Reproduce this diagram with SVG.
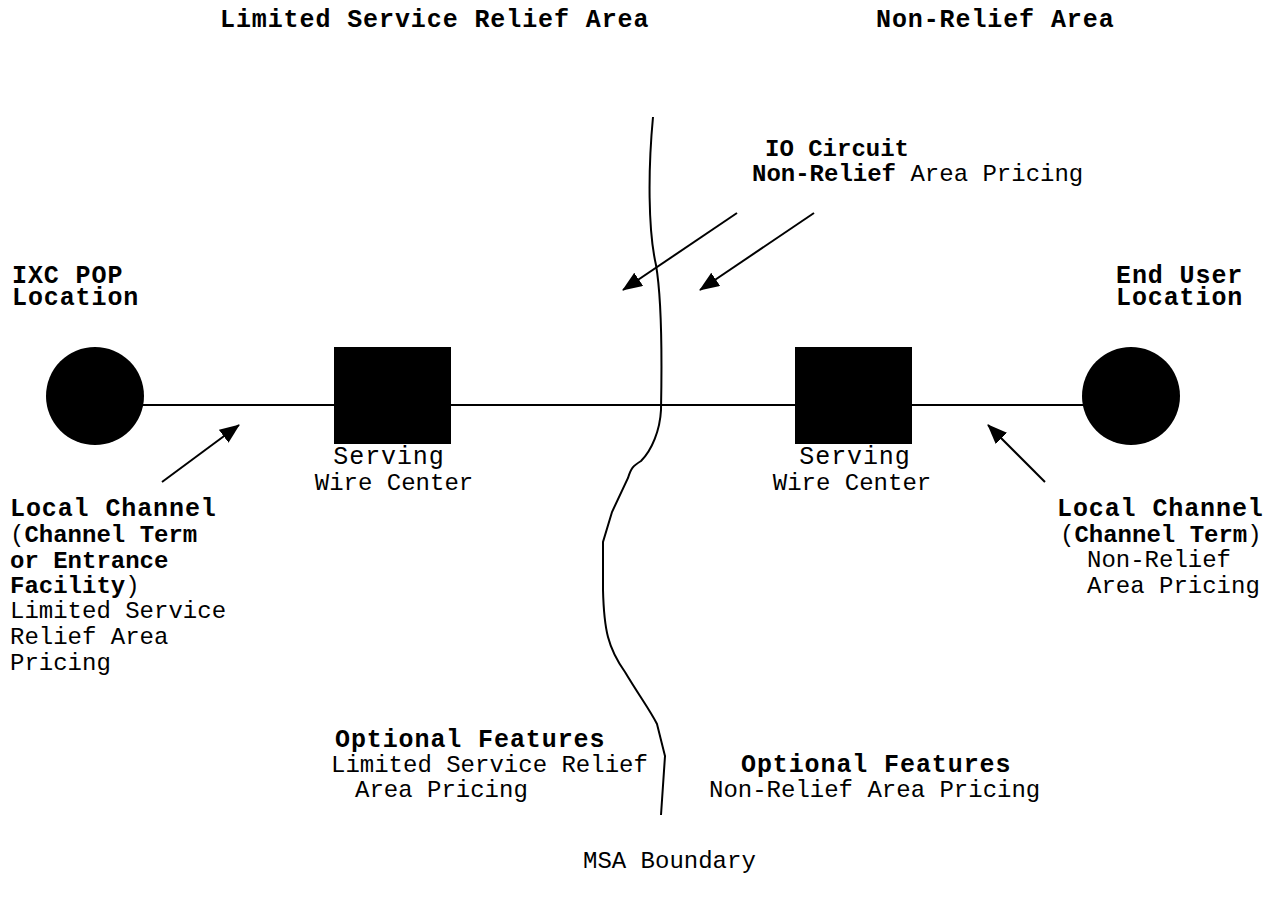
<svg xmlns="http://www.w3.org/2000/svg" width="1271" height="900" viewBox="0 0 1271 900">
<style>
text{font-family:"Liberation Mono","Courier New",monospace;font-size:24px;fill:#000}
.h{font-weight:bold;font-size:25px;letter-spacing:0.9px}
.b{font-weight:bold}
.r{font-weight:normal}
.big{font-size:25px;letter-spacing:0.9px}
.ln{stroke:#000;stroke-width:2;fill:none}
</style>
<defs>
<marker id="ah" markerUnits="userSpaceOnUse" markerWidth="20" markerHeight="16" refX="19" refY="8" orient="auto">
<path d="M0,0 L20,8 L0,16 Z" fill="#000"/>
</marker>
</defs>
<rect width="1271" height="900" fill="#fff"/>
<g id="titles">
<text class="h" x="220" y="27">Limited Service Relief Area</text>
<text class="h" x="876" y="27">Non-Relief Area</text>
</g>
<g id="connectors">
<line class="ln" x1="143" y1="405" x2="1083" y2="405"/>
<path id="msa-boundary" class="ln" d="M653,117 C648,170 648,230 656,265 C662,300 662,360 661,410 C660,430 652,450 641,461 C633,466 631,468 628,478 L612,512 L603,542 L603,590 C604,630 608,648 625,672 C640,697 650,710 657,724 L665,756 L661,815"/>
<line class="ln" x1="162" y1="482" x2="239" y2="425" marker-end="url(#ah)"/>
<line class="ln" x1="1045" y1="482" x2="988" y2="425" marker-end="url(#ah)"/>
<line class="ln" x1="737" y1="213" x2="623" y2="290" marker-end="url(#ah)"/>
<line class="ln" x1="814" y1="213" x2="700" y2="290" marker-end="url(#ah)"/>
</g>
<g id="ixc-pop">
<circle cx="95" cy="396" r="49" fill="#000"/>
<text class="h" x="12" y="283">IXC POP</text>
<text class="h" x="12" y="305">Location</text>
</g>
<g id="serving-wire-center-left">
<rect x="334" y="347" width="117" height="97" fill="#000"/>
<text class="big" x="389" y="464" text-anchor="middle">Serving</text>
<text x="394" y="490" text-anchor="middle">Wire Center</text>
</g>
<g id="serving-wire-center-right">
<rect x="795" y="347" width="117" height="97" fill="#000"/>
<text class="big" x="855" y="464" text-anchor="middle">Serving</text>
<text x="852" y="490" text-anchor="middle">Wire Center</text>
</g>
<g id="end-user">
<circle cx="1131" cy="396" r="49" fill="#000"/>
<text class="h" x="1116" y="283">End User</text>
<text class="h" x="1116" y="305">Location</text>
</g>
<g id="io-circuit-label">
<text class="b" x="765" y="156">IO Circuit</text>
<text x="752" y="181"><tspan class="b">Non-Relief</tspan><tspan class="r"> Area Pricing</tspan></text>
</g>
<g id="local-channel-left">
<text class="h" x="10" y="516">Local Channel</text>
<text x="10" y="542"><tspan class="r">(</tspan><tspan class="b">Channel Term</tspan></text>
<text class="b" x="10" y="568">or Entrance</text>
<text x="10" y="593"><tspan class="b">Facility</tspan><tspan class="r">)</tspan></text>
<text x="10" y="618">Limited Service</text>
<text x="10" y="644">Relief Area</text>
<text x="10" y="670">Pricing</text>
</g>
<g id="local-channel-right">
<text class="h" x="1057" y="516">Local Channel</text>
<text x="1060" y="542"><tspan class="r">(</tspan><tspan class="b">Channel Term</tspan><tspan class="r">)</tspan></text>
<text x="1087" y="567">Non-Relief</text>
<text x="1087" y="593">Area Pricing</text>
</g>
<g id="optional-features-left">
<text class="h" x="335" y="747">Optional Features</text>
<text x="331" y="772">Limited Service Relief</text>
<text x="355" y="797">Area Pricing</text>
</g>
<g id="optional-features-right">
<text class="h" x="741" y="772">Optional Features</text>
<text x="709" y="797">Non-Relief Area Pricing</text>
</g>
<g id="msa-label">
<text x="583" y="868">MSA Boundary</text>
</g>
</svg>
